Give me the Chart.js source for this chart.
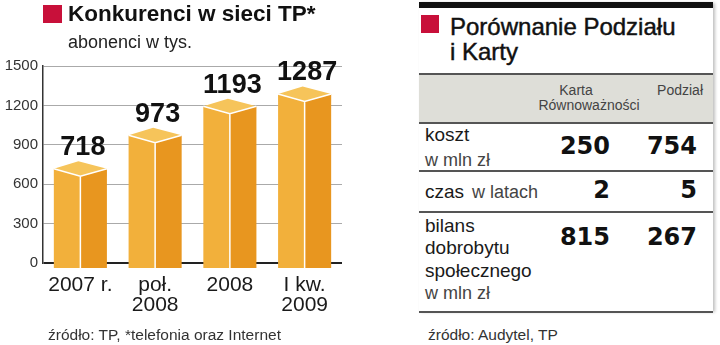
<!DOCTYPE html>
<html>
<head>
<meta charset="utf-8">
<script src="https://cdn.jsdelivr.net/npm/chart.js@4.4.0/dist/chart.umd.min.js"></script>
<style>
  body { margin: 0; width: 720px; height: 345px; background: #fff; position: relative; overflow: hidden;
         font-family: "Liberation Sans", Arial, sans-serif; color: #1a1a1a; }
  .t { position: absolute; white-space: nowrap; }
  #chartWrap { position: absolute; left: 0; top: 0; width: 360px; height: 345px; }
  .sq { position: absolute; background: #c8103a; }
  .ln { position: absolute; background: #555; }
</style>
</head>
<body>
<div id="chartWrap"><canvas id="subsChart" width="360" height="345"></canvas></div>
<div id="panel" style="position:absolute;left:419px;top:2px;width:294px;height:309px;background:#fff;box-shadow:2px 1px 3px rgba(0,0,0,0.25)"></div>

<script>
// --- left chart data ---
const categories = [['2007 r.'], ['poł.', '2008'], ['2008'], ['I kw.', '2009']];
const subscribers = [718, 973, 1193, 1287];
const yTicks = [0, 300, 600, 900, 1200, 1500];

// --- right table data ---
const rowLabels = [['koszt'], ['czas'], ['bilans', 'dobrobytu', 'społecznego']];
const rowUnits = ['w mln zł', 'w latach', 'w mln zł'];
const kartaValues = [250, 2, 815];
const podzialValues = [754, 5, 267];
const columnHeads = [['Karta', 'Równoważności'], ['Podział']];

const FONT = '"Liberation Sans", Arial, sans-serif';

// place a text so that its baseline lands at `base`
function txt(str, x, base, size, opts = {}) {
  const d = document.createElement('div');
  d.className = 't';
  d.textContent = str;
  d.style.fontSize = size + 'px';
  d.style.lineHeight = size + 'px';
  d.style.top = (base - 0.8465 * size) + 'px';
  if (opts.right) d.style.right = (720 - x) + 'px';
  else if (opts.center) { d.style.left = (x - 150) + 'px'; d.style.width = '300px'; d.style.textAlign = 'center'; }
  else d.style.left = x + 'px';
  if (opts.bold) d.style.fontWeight = 'bold';
  if (opts.family) d.style.fontFamily = opts.family;
  if (opts.color) d.style.color = opts.color;
  if (opts.stroke) d.style.webkitTextStroke = opts.stroke;
  document.body.appendChild(d);
  return d;
}
function box(cls, l, t, w, h, bg) {
  const d = document.createElement('div');
  d.className = cls;
  Object.assign(d.style, { left: l + 'px', top: t + 'px', width: w + 'px', height: h + 'px' });
  if (bg) d.style.background = bg;
  document.body.appendChild(d);
}

// left headings
box('sq', 43, 5, 19, 18);
txt('Konkurenci w sieci TP*', 68, 22, 22.5, { bold: true, color: '#111' });
txt('abonenci w tys.', 68, 48, 18, { color: '#222' });
txt('źródło: TP, *telefonia oraz Internet', 48, 340, 15.5, { color: '#333' });

// right panel
box('sq', 419, 2, 294, 6, '#111');
box('sq', 421, 15, 18, 18);
txt('Porównanie Podziału', 450, 35, 24, { color: '#111', stroke: '0.45px #111' });
txt('i Karty', 450, 60, 24, { color: '#111', stroke: '0.45px #111' });
box('sq', 419, 74, 294, 48, '#deded8');
box('ln', 419, 73, 294, 1.5);
txt(columnHeads[0][0], 576, 95, 14, { center: true, color: '#444' });
txt(columnHeads[0][1], 589, 110, 14, { center: true, color: '#444' });
txt(columnHeads[1][0], 703, 95, 14, { right: true, color: '#444' });

const rowLines = [122, 170, 211, 311];
rowLines.forEach(y => { box('ln', 419, y, 294, 1.5); });

const numFont = '"DejaVu Sans", sans-serif';
const labelBase = [141, 198, 232];
const numBase = [154, 198, 245];
rowLabels.forEach((lines, i) => {
  const b = labelBase[i];
  let last;
  lines.forEach((s, k) => { last = txt(s, 425, b + k * 22.3, 19, { color: '#1a1a1a' }); });
  if (i === 1) {
    const w = last.getBoundingClientRect().width;
    txt(rowUnits[i], 425 + w + 8, b, 18, { color: '#444' });
  } else {
    txt(rowUnits[i], 425, b + lines.length * 22.3 + (i === 0 ? 2.7 : 0), 18, { color: '#444' });
  }
  txt(String(kartaValues[i]), 610, numBase[i], 24, { right: true, bold: true, family: numFont, color: '#111' });
  txt(String(podzialValues[i]), 697, numBase[i], 24, { right: true, bold: true, family: numFont, color: '#111' });
});
txt('źródło: Audytel, TP', 428, 340, 15.5, { color: '#333' });

// 3D boxes drawn on top of the (invisible) bar elements
const box3d = {
  id: 'box3d',
  afterDatasetsDraw(chart) {
    const ctx = chart.ctx;
    const meta = chart.getDatasetMeta(0);
    const poly = pts => {
      ctx.beginPath();
      pts.forEach((p, k) => k ? ctx.lineTo(p[0], p[1]) : ctx.moveTo(p[0], p[1]));
      ctx.closePath();
      ctx.fill();
    };
    meta.data.forEach((bar, i) => {
      const { x, y, base, width } = bar.getProps(['x', 'y', 'base', 'width'], true);
      const l = x - width / 2, r = x + width / 2, d = 7.5, bot = base + 6;
      ctx.save();
      ctx.fillStyle = '#f2b03b';
      poly([[l, y], [x, y + d], [x, bot], [l, bot]]);
      ctx.fillStyle = '#e8961f';
      poly([[x, y + d], [r, y], [r, bot], [x, bot]]);
      ctx.fillStyle = '#f6c45a';
      poly([[l, y], [x - 2, y - d], [r, y], [x, y + d]]);
      ctx.strokeStyle = '#fff';
      ctx.lineWidth = 1.5;
      ctx.beginPath();
      ctx.moveTo(l, y); ctx.lineTo(x, y + d); ctx.lineTo(r, y);
      ctx.moveTo(x, y + d); ctx.lineTo(x, bot);
      ctx.stroke();
      ctx.fillStyle = '#111';
      ctx.font = 'bold 27px ' + FONT;
      ctx.textAlign = 'center';
      ctx.textBaseline = 'alphabetic';
      ctx.fillText(String(subscribers[i]), x + 2.5, y - 13.5);
      ctx.restore();
    });
  }
};

new Chart(document.getElementById('subsChart').getContext('2d'), {
  type: 'bar',
  data: {
    labels: categories,
    datasets: [{
      data: subscribers,
      backgroundColor: 'rgba(0,0,0,0)',
      borderWidth: 0,
      categoryPercentage: 1,
      barPercentage: 0.71
    }]
  },
  options: {
    responsive: false,
    animation: false,
    events: [],
    layout: { padding: { top: 66, right: 18, left: 0, bottom: 0 } },
    plugins: { legend: { display: false }, tooltip: { enabled: false } },
    scales: {
      x: {
        grid: { display: false, drawTicks: false },
        border: { display: false },
        ticks: { color: '#1a1a1a', font: { family: FONT, size: 21, lineHeight: '20px' }, padding: 12, maxRotation: 0, autoSkip: false },
        afterFit: s => { s.height = 82; }
      },
      y: {
        min: 0, max: 1500,
        afterBuildTicks: s => { s.ticks = yTicks.map(v => ({ value: v })); },
        grid: {
          drawTicks: false,
          color: c => c.tick && c.tick.value === 0 ? '#222' : '#aaa',
          lineWidth: c => c.tick && c.tick.value === 0 ? 2 : 1
        },
        border: { display: true, color: '#333', width: 1.5 },
        ticks: { color: '#333', font: { family: FONT, size: 15 }, padding: 5, callback: v => String(v) },
        afterFit: s => { s.width = 43; }
      }
    }
  },
  plugins: [box3d]
});
</script>
</body>
</html>
